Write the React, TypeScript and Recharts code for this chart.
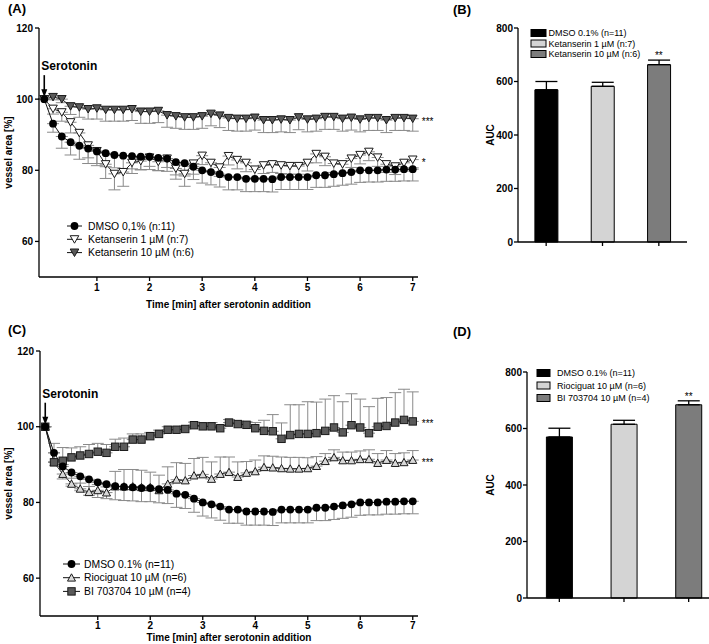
import React from 'react';
import {
  LineChart,
  Line,
  BarChart,
  Bar,
  Cell,
  XAxis,
  YAxis,
  ErrorBar,
  Legend,
  ReferenceDot,
} from 'recharts';

const FONT = '"Liberation Sans", Arial, Helvetica, sans-serif';

// sampling times, seconds after serotonin addition
const timeSec = [
  0, 10, 20, 30, 40, 50, 60, 70, 80, 90, 100, 110, 120, 130, 140, 150, 160, 170, 180, 190, 200, 210,
  220, 230, 240, 250, 260, 270, 280, 290, 300, 310, 320, 330, 340, 350, 360, 370, 380, 390, 400, 410, 420,
];
const xTicks = [1, 2, 3, 4, 5, 6, 7];
const yTicksLine = [60, 80, 100, 120];
const yTicksBar = [0, 200, 400, 600, 800];

// control, shared by panels A and C
const dmsoMean = [
  100, 93.1, 89.5, 87.9, 86.9, 86.1, 85.3, 84.8, 84.3, 84.1, 84.0, 83.8, 83.8, 83.5, 83.3, 82.3, 82.0, 81.0,
  80.0, 79.5, 78.9, 78.1, 78.1, 77.6, 77.6, 77.6, 77.5, 78.1, 78.1, 78.1, 78.1, 78.6, 78.6, 78.9, 79.2, 79.5,
  80.0, 80.0, 80.0, 80.2, 80.2, 80.3, 80.3,
];
const dmsoSem = [
  0, 2.4, 3.3, 3.6, 3.8, 4.2, 4.0, 3.8, 3.6, 3.6, 3.6, 3.6, 3.6, 3.6, 3.6, 3.6, 3.6, 3.6, 3.6, 3.6, 3.6, 3.6,
  3.6, 3.6, 3.6, 3.6, 3.6, 3.5, 3.5, 3.5, 3.5, 3.4, 3.4, 3.4, 3.4, 3.4, 3.4, 3.3, 3.3, 3.3, 3.3, 3.3, 3.3,
];

// panel A
const ket1Mean = [
  100, 97.3, 96.3, 93.5, 90.5, 87.0, 85.4, 81.7, 79.0, 79.5, 82.1, 82.6, 83.6, 82.4, 83.3, 80.5, 79.0, 81.9,
  84.1, 82.1, 80.8, 84.0, 82.9, 82.1, 80.2, 81.4, 81.7, 81.4, 81.2, 81.2, 82.1, 84.6, 83.8, 81.9, 81.7, 83.3,
  84.3, 85.2, 83.6, 81.7, 81.1, 82.1, 83.0,
];
const ket1Sem = [
  0, 1.5, 2.5, 3, 3.5, 3.5, 3.5, 4, 4.5, 4, 3, 2.5, 2.5, 2.5, 2.5, 3, 3.5, 3, 2.5, 2.5, 2.5, 2.5, 2.5, 2.5,
  2.3, 2.3, 2.3, 2.3, 2.3, 2.3, 2.3, 2.5, 2.5, 2.5, 2.5, 2.5, 2.5, 2.5, 2.5, 2.3, 2.3, 2.3, 2.3,
];
const ket10Mean = [
  100, 100.6, 100, 98.0, 97.7, 97.2, 97.4, 97.0, 97.0, 97.0, 97.2, 96.5, 96.5, 96.7, 95.5, 95.2, 94.9, 94.9,
  95.2, 95.9, 95.4, 94.7, 94.5, 94.5, 94.8, 94.1, 94.1, 94.3, 94.1, 94.9, 94.3, 94.5, 95.0, 95.0, 94.5, 94.8,
  94.3, 94.7, 94.7, 94.1, 94.7, 94.7, 94.5,
];
const ket10Sem = [
  0, 0.8, 1, 2.3, 2.8, 2.8, 3, 3.2, 3.2, 3.2, 3.2, 3.3, 3.3, 3.3, 3.4, 3.4, 3.4, 3.4, 3.4, 3.4, 3.4, 3.5,
  3.5, 3.5, 3.5, 3.5, 3.5, 3.5, 3.5, 3.5, 3.5, 3.5, 3.5, 3.5, 3.5, 3.5, 3.5, 3.5, 3.5, 3.5, 3.5, 3.5, 3.5,
];

// panel C
const rioMean = [
  100, 90.6, 87.5, 84.9, 83.6, 82.7, 83.2, 82.6, 84.2, 84.2, 84.2, 84.0, 84.0, 83.2, 84.9, 86.0, 85.8, 87.1,
  87.4, 86.2, 87.5, 88.0, 86.7, 87.8, 88.2, 89.3, 89.2, 89.0, 88.9, 88.9, 89.0, 89.6, 90.9, 91.9, 91.1, 91.1,
  91.4, 91.4, 90.4, 91.2, 90.4, 90.6, 91.2,
];
const rioSem = [
  0, 2.5, 2.5, 1.5, 1.5, 1.5, 1.5, 1.5, 4, 4.5, 4.5, 4.5, 4, 4, 4.5, 4.5, 4.5, 4.5, 4.5, 4.5, 4.5, 4, 4, 3, 3,
  3, 3, 3, 3, 3, 2.8, 2.5, 2, 2, 2.2, 2.2, 2.2, 2.5, 2.5, 2.5, 2.5, 2.5, 2.5,
];
const biMean = [
  100, 90.6, 91.0, 91.9, 92.4, 92.8, 93.4, 93.1, 94.7, 94.7, 96.6, 96.6, 97.5, 98.1, 99.2, 99.2, 99.4, 100.4,
  100.1, 100.1, 99.6, 101.1, 100.7, 100.5, 99.6, 98.9, 98.8, 96.8, 97.8, 98.1, 98.1, 98.3, 98.9, 99.8, 98.5,
  100.4, 99.8, 98.3, 100.0, 100.2, 101.1, 101.8, 101.4,
];
const biSem = [
  0, 5, 3.5, 2.5, 2.3, 2.5, 2.2, 2.2, 2, 2.3, 1.5, 1.5, 1, 1, 0.8, 0.8, 0.8, 0.8, 1, 1, 0.8, 0.8, 0.8, 0.8,
  1.5, 2.8, 4.4, 4.2, 8, 7.7, 8.5, 8.2, 8.4, 8.4, 8.1, 8.3, 7.5, 7, 7.5, 7.5, 7.9, 8.1, 7.8,
];

// panels B and D (AUC)
const aucCatsB = ['DMSO 0.1% (n=11)', 'Ketanserin 1 µM (n:7)', 'Ketanserin 10 µM (n:6)'];
const aucMeanB = [569, 582, 663];
const aucSemB = [31, 15, 17];
const aucCatsD = ['DMSO 0.1% (n=11)', 'Riociguat 10 µM (n=6)', 'BI 703704 10 µM (n=4)'];
const aucMeanD = [570, 615, 684];
const aucSemD = [31, 14, 14];
const barFills = ['#000000', '#d4d4d4', '#7c7c7c'];

const last = timeSec.length - 1;

const dataA = timeSec.map((s, i) => ({
  t: s / 60,
  dmso: dmsoMean[i],
  dmsoE: [dmsoSem[i], 0],
  ket1: ket1Mean[i],
  ket1E: [ket1Sem[i], 0],
  ket10: ket10Mean[i],
  ket10E: [ket10Sem[i], 0],
}));

const dataC = timeSec.map((s, i) => ({
  t: s / 60,
  dmso: dmsoMean[i],
  dmsoE: [dmsoSem[i], 0],
  rio: rioMean[i],
  rioE: [0, rioSem[i]],
  bi: biMean[i],
  biE: [0, biSem[i]],
}));

const dataB = aucCatsB.map((name, i) => ({ name, auc: aucMeanB[i], err: [0, aucSemB[i]] }));
const dataD = aucCatsD.map((name, i) => ({ name, auc: aucMeanD[i], err: [0, aucSemD[i]] }));

const tickStyle = { fontSize: 10, fontWeight: 'bold', fill: '#000', fontFamily: FONT };
const axisStroke = { stroke: '#000', strokeWidth: 1.3 };
const boldText = { fontFamily: FONT, fontSize: 10, fontWeight: 'bold' };

function Marker({ shape, cx, cy, fill }: any) {
  if (cx == null || cy == null) return null;
  if (shape === 'circle') return <circle cx={cx} cy={cy} r={3.9} fill={fill} />;
  if (shape === 'triDown')
    return (
      <path
        d={`M${cx - 4.3},${cy - 3.6}L${cx + 4.3},${cy - 3.6}L${cx},${cy + 3.9}Z`}
        fill={fill}
        stroke="#1a1a1a"
        strokeWidth={1}
      />
    );
  if (shape === 'triUp')
    return (
      <path
        d={`M${cx - 4},${cy + 3.4}L${cx + 4},${cy + 3.4}L${cx},${cy - 3.9}Z`}
        fill={fill}
        stroke="#1a1a1a"
        strokeWidth={1}
      />
    );
  return <rect x={cx - 3.7} y={cy - 3.7} width={7.4} height={7.4} fill={fill} stroke="#1a1a1a" strokeWidth={1} />;
}

const dotOf = (shape: string, fill: string) => (p: any) =>
  <Marker key={`m-${p.index}`} shape={shape} cx={p.cx} cy={p.cy} fill={fill} />;

const yTitle = (text: string, dx: number) => (p: any) => {
  const vb = p.viewBox || {};
  const x = (vb.x || 0) + dx;
  const y = (vb.y || 0) + (vb.height || 0) / 2;
  return (
    <text x={x} y={y} transform={`rotate(-90 ${x} ${y})`} textAnchor="middle" dominantBaseline="central" fill="#000" style={boldText}>
      {text}
    </text>
  );
};

const xTitle = (text: string, dy: number) => (p: any) => {
  const vb = p.viewBox || {};
  const x = (vb.x || 0) + (vb.width || 0) / 2;
  return (
    <text x={x} y={(vb.y || 0) + dy} textAnchor="middle" fill="#000" style={boldText}>
      {text}
    </text>
  );
};

const sig = (text: string) => (p: any) => (
  <text x={p.cx + 9} y={p.cy + 6} fill="#000" style={{ fontFamily: FONT, fontSize: 10 }}>
    {text}
  </text>
);

const serotoninMark = (p: any) => (
  <g>
    <text x={p.cx - 3} y={p.cy - 29} fill="#000" style={{ fontFamily: FONT, fontSize: 12, fontWeight: 'bold' }}>
      Serotonin
    </text>
    <line x1={p.cx} x2={p.cx} y1={p.cy - 24} y2={p.cy - 9} stroke="#000" strokeWidth={1.6} />
    <path d={`M${p.cx - 3},${p.cy - 10}L${p.cx + 3},${p.cy - 10}L${p.cx},${p.cy - 2}Z`} fill="#000" />
  </g>
);

const LineLegend = ({ items, gap, len, textX, size }: any) => (
  <svg width={180} height={50} style={{ display: 'block', overflow: 'visible' }}>
    {items.map((it: any, i: number) => {
      const y = 8 + i * gap;
      return (
        <g key={it.label}>
          <line x1={5} x2={5 + len} y1={y} y2={y} stroke="#111" strokeWidth={1} />
          <Marker shape={it.shape} cx={5 + len / 2} cy={y} fill={it.fill} />
          <text x={textX} y={y} dominantBaseline="central" fill="#000" style={{ fontFamily: FONT, fontSize: size }}>
            {it.label}
          </text>
        </g>
      );
    })}
  </svg>
);

const BarLegend = ({ labels, gap, sw, textX }: any) => (
  <svg width={160} height={40} style={{ display: 'block', overflow: 'visible' }}>
    {labels.map((label: string, i: number) => {
      const y = 7 + i * gap;
      return (
        <g key={label}>
          <rect x={3} y={y - 3.5} width={sw} height={7} fill={barFills[i]} stroke="#000" strokeWidth={1} />
          <text x={textX} y={y} dominantBaseline="central" fill="#000" style={{ fontFamily: FONT, fontSize: 9 }}>
            {label}
          </text>
        </g>
      );
    })}
  </svg>
);

const legendA = [
  { label: 'DMSO 0,1% (n:11)', shape: 'circle', fill: '#000' },
  { label: 'Ketanserin 1 µM (n:7)', shape: 'triDown', fill: '#ffffff' },
  { label: 'Ketanserin 10 µM (n:6)', shape: 'triDown', fill: '#5a5a5a' },
];
const legendC = [
  { label: 'DMSO 0.1% (n=11)', shape: 'circle', fill: '#000' },
  { label: 'Riociguat 10 µM (n=6)', shape: 'triUp', fill: '#d8d8d8' },
  { label: 'BI 703704 10 µM (n=4)', shape: 'square', fill: '#5a5a5a' },
];

const errStyle = { stroke: '#8a8a8a', strokeWidth: 1, width: 6 };

function TimeCourse({ data, height, top, bottomMargin, yWidth, xTitleDy, tickGap, legend, legendPos, children }: any) {
  return (
    <LineChart
      width={440}
      height={height}
      data={data}
      margin={{ top, right: 22, bottom: bottomMargin, left: 0 }}
    >
      <XAxis
        type="number"
        dataKey="t"
        domain={[-0.1, 7.1]}
        ticks={xTicks}
        allowDataOverflow
        height={20}
        tickSize={4}
        tickMargin={tickGap}
        tick={tickStyle}
        axisLine={axisStroke}
        tickLine={axisStroke}
        label={xTitle('Time [min] after serotonin addition', xTitleDy)}
      />
      <YAxis
        type="number"
        domain={[50, 120]}
        ticks={yTicksLine}
        allowDataOverflow
        width={yWidth}
        tickSize={4}
        tickMargin={2}
        tick={tickStyle}
        axisLine={axisStroke}
        tickLine={axisStroke}
        label={yTitle('vessel area [%]', 8)}
      />
      <Legend
        layout="vertical"
        align="center"
        verticalAlign="middle"
        wrapperStyle={{ left: legendPos.left, top: legendPos.top, width: 'auto' }}
        content={() => legend}
      />
      {children}
      <ReferenceDot x={0} y={100} r={0} shape={serotoninMark} />
    </LineChart>
  );
}

function AucChart({ data, cats, width, height, top, right, bottom, yWidth, tickMargin, legend, legendPos }: any) {
  const i = cats.length - 1;
  return (
    <BarChart
      width={width}
      height={height}
      data={data}
      margin={{ top, right, bottom, left: 0 }}
      barCategoryGap="30%"
    >
      <XAxis dataKey="name" height={20} tickSize={4} tickFormatter={() => ''} axisLine={axisStroke} tickLine={axisStroke} />
      <YAxis
        type="number"
        domain={[0, 800]}
        ticks={yTicksBar}
        width={yWidth}
        tickSize={4}
        tickMargin={tickMargin}
        tick={tickStyle}
        axisLine={axisStroke}
        tickLine={axisStroke}
        label={yTitle('AUC', 50)}
      />
      <Legend
        layout="vertical"
        align="center"
        verticalAlign="middle"
        wrapperStyle={{ left: legendPos.left, top: legendPos.top, width: 'auto' }}
        content={() => legend}
      />
      <Bar dataKey="auc" stroke="#000" strokeWidth={1} isAnimationActive={false}>
        {data.map((d: any, k: number) => (
          <Cell key={d.name} fill={barFills[k]} />
        ))}
        <ErrorBar dataKey="err" direction="y" width={11} stroke="#000" strokeWidth={1.3} isAnimationActive={false} />
      </Bar>
      <ReferenceDot
        x={cats[i]}
        y={data[i].auc + data[i].err[1]}
        r={0}
        shape={(p: any) => (
          <text x={p.cx} y={p.cy - 1} textAnchor="middle" fill="#000" style={{ fontFamily: FONT, fontSize: 10 }}>
            **
          </text>
        )}
      />
    </BarChart>
  );
}

export default function App() {
  return (
    <div
      style={{
        position: 'absolute',
        left: 0,
        top: 0,
        width: 709,
        height: 644,
        overflow: 'hidden',
        background: '#fff',
        fontFamily: FONT,
      }}
    >
      <div style={{ position: 'absolute', left: 0, top: 0 }}>
        <TimeCourse
          data={dataA}
          height={320}
          top={28}
          bottomMargin={23}
          yWidth={39}
          xTitleDy={31}
          tickGap={3}
          legendPos={{ left: 62, top: 218 }}
          legend={<LineLegend items={legendA} gap={13.3} len={15} textX={26} size={10.4} />}
        >
          <Line dataKey="ket10" stroke="#222" strokeWidth={1} dot={dotOf('triDown', '#5a5a5a')} activeDot={false} isAnimationActive={false}>
            <ErrorBar dataKey="ket10E" direction="y" {...errStyle} isAnimationActive={false} />
          </Line>
          <Line dataKey="ket1" stroke="#222" strokeWidth={1} dot={dotOf('triDown', '#ffffff')} activeDot={false} isAnimationActive={false}>
            <ErrorBar dataKey="ket1E" direction="y" {...errStyle} isAnimationActive={false} />
          </Line>
          <Line dataKey="dmso" stroke="#111" strokeWidth={1} dot={dotOf('circle', '#000')} activeDot={false} isAnimationActive={false}>
            <ErrorBar dataKey="dmsoE" direction="y" {...errStyle} isAnimationActive={false} />
          </Line>
          <ReferenceDot x={timeSec[last] / 60} y={ket10Mean[last]} r={0} shape={sig('***')} />
          <ReferenceDot x={timeSec[last] / 60} y={ket1Mean[last]} r={0} shape={sig('*')} />
        </TimeCourse>
      </div>

      <div style={{ position: 'absolute', left: 440, top: 0 }}>
        <AucChart
          data={dataB}
          cats={aucCatsB}
          width={269}
          height={290}
          top={28}
          right={22}
          bottom={28}
          yWidth={78}
          tickMargin={1}
          legendPos={{ left: 88, top: 26 }}
          legend={<BarLegend labels={aucCatsB} gap={10.5} sw={15} textX={20.5} />}
        />
      </div>

      <div style={{ position: 'absolute', left: 0, top: 320 }}>
        <TimeCourse
          data={dataC}
          height={324}
          top={31}
          bottomMargin={8}
          yWidth={40}
          xTitleDy={25}
          tickGap={2}
          legendPos={{ left: 58, top: 236 }}
          legend={<LineLegend items={legendC} gap={13.7} len={17} textX={26} size={10.4} />}
        >
          <Line dataKey="rio" stroke="#222" strokeWidth={1} dot={dotOf('triUp', '#d8d8d8')} activeDot={false} isAnimationActive={false}>
            <ErrorBar dataKey="rioE" direction="y" {...errStyle} isAnimationActive={false} />
          </Line>
          <Line dataKey="bi" stroke="#222" strokeWidth={1} dot={dotOf('square', '#5a5a5a')} activeDot={false} isAnimationActive={false}>
            <ErrorBar dataKey="biE" direction="y" {...errStyle} isAnimationActive={false} />
          </Line>
          <Line dataKey="dmso" stroke="#111" strokeWidth={1} dot={dotOf('circle', '#000')} activeDot={false} isAnimationActive={false}>
            <ErrorBar dataKey="dmsoE" direction="y" {...errStyle} isAnimationActive={false} />
          </Line>
          <ReferenceDot x={timeSec[last] / 60} y={biMean[last]} r={0} shape={sig('***')} />
          <ReferenceDot x={timeSec[last] / 60} y={rioMean[last]} r={0} shape={sig('***')} />
        </TimeCourse>
      </div>

      <div style={{ position: 'absolute', left: 440, top: 320 }}>
        <AucChart
          data={dataD}
          cats={aucCatsD}
          width={290}
          height={324}
          top={52}
          right={9}
          bottom={26}
          yWidth={87}
          tickMargin={1}
          legendPos={{ left: 94, top: 46 }}
          legend={<BarLegend labels={aucCatsD} gap={12.5} sw={13} textX={23} />}
        />
      </div>

      <svg width={709} height={644} style={{ position: 'absolute', left: 0, top: 0, pointerEvents: 'none' }}>
        <g fill="#000" style={{ fontFamily: FONT, fontSize: 13, fontWeight: 'bold' }}>
          <text x={8} y={13}>(A)</text>
          <text x={453} y={14}>(B)</text>
          <text x={8} y={334}>(C)</text>
          <text x={453} y={336}>(D)</text>
        </g>
      </svg>
    </div>
  );
}
